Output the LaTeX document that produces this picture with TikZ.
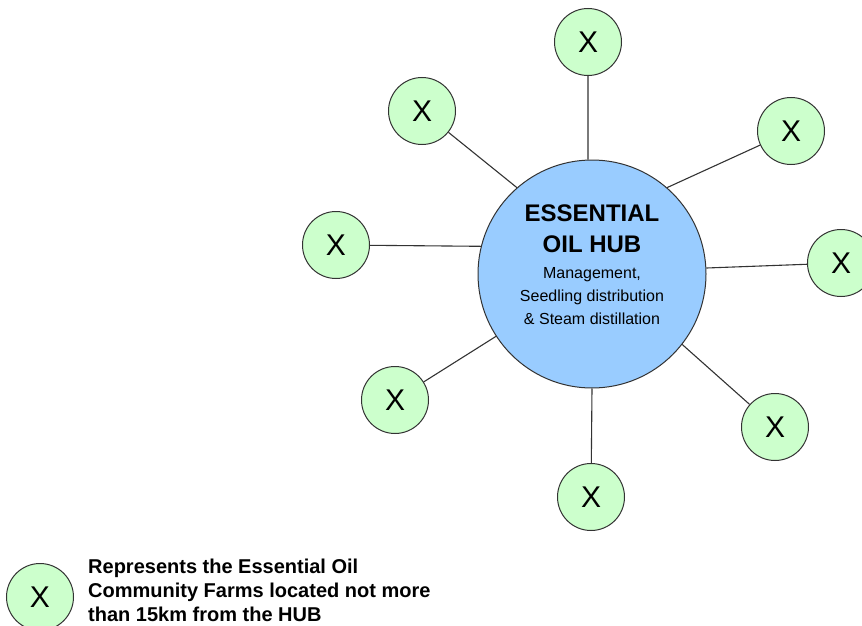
\documentclass[tikz,border=0pt]{standalone}
\usepackage{fontspec}
\setmainfont{Liberation Sans}
\definecolor{farmgreen}{HTML}{CCFFCC}
\definecolor{hubblue}{HTML}{99CCFF}
\definecolor{edgegray}{HTML}{333333}
\tikzset{
  farm/.style={circle, draw=edgegray, line width=1pt, fill=farmgreen, minimum size=67pt, inner sep=0pt, font=\fontsize{30}{30}\selectfont},
  hub/.style={circle, draw=edgegray, line width=1pt, fill=hubblue, minimum size=228pt, inner sep=0pt},
  link/.style={draw=edgegray, line width=1.1pt},
  hubtitle/.style={font=\bfseries\fontsize{24}{31}\selectfont, anchor=base, inner sep=0pt},
  hubsub/.style={font=\fontsize{16}{23}\selectfont, anchor=base, inner sep=0pt},
  legendtext/.style={font=\bfseries\fontsize{20}{24}\selectfont, align=left, anchor=west, inner sep=0pt}
}
\begin{document}
\begin{tikzpicture}[x=1pt,y=-1pt]
\useasboundingbox (0,0) rectangle (862,626);
\node[hub] (hub) at (592,274) {};
\node[farm] (f1) at (588,42) {X};
\node[farm] (f2) at (422,111) {X};
\node[farm] (f3) at (791,131) {X};
\node[farm] (f4) at (336,245) {X};
\node[farm] (f5) at (841,263) {X};
\node[farm] (f6) at (395,400) {X};
\node[farm] (f7) at (775,427) {X};
\node[farm] (f8) at (591,497) {X};
\draw[link] (hub.92) -- (f1);
\draw[link] (hub.131) -- (f2);
\draw[link] (hub.49) -- (f3);
\draw[link] (hub.166) -- (f4);
\draw[link] (hub.3.5) -- (f5);
\draw[link] (hub.213) -- (f6);
\draw[link] (hub.322) -- (f7);
\draw[link] (hub.270) -- (f8);
\node[hubtitle] (t1) at (592,221) {ESSENTIAL};
\node[hubtitle] (t2) at (592,252) {OIL HUB};
\node[hubsub] (t3) at (592,278) {Management,};
\node[hubsub] (t4) at (592,301) {Seedling distribution};
\node[hubsub] (t5) at (592,324) {\& Steam distillation};
\node[farm] (legend) at (40,597) {X};
\node[legendtext] (legendlabel) at (88,590) {Represents the Essential Oil\\Community Farms located not more\\than 15km from the HUB};
\end{tikzpicture}
\end{document}
